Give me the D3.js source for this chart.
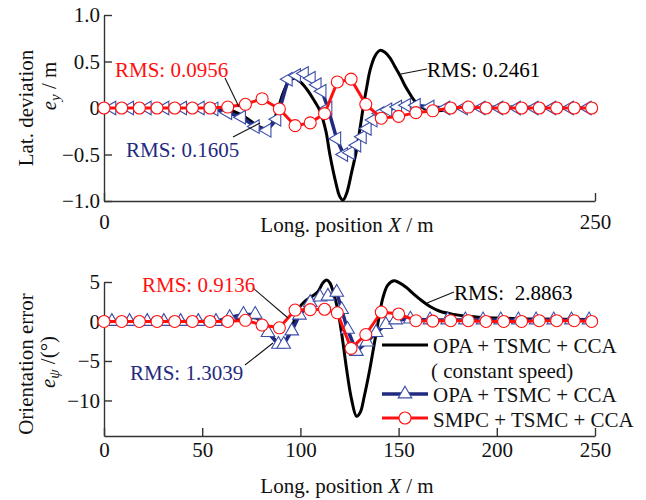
<!DOCTYPE html>
<html>
<head>
<meta charset="utf-8">
<script src="https://cdn.jsdelivr.net/npm/d3@7"></script>
<style>
  body { margin: 0; background: #fff; }
  text { font-family: "Liberation Serif", "Times New Roman", serif; }
</style>
</head>
<body>
<div id="mycanvas"></div>
<script>
const width = 646;
const height = 500;

// constant speed OPA (black), [X, value]
const blackTop = [[0,0],[55,0],[65,-0.03],[72,-0.1],[78,-0.19],[82,-0.22],[85,-0.18],[88,-0.05],[91,0.15],[94,0.28],[97,0.32],[100,0.28],[104,0.18],[107,0.08],[110,-0.03],[113,-0.25],[115,-0.5],[118,-0.8],[120,-0.95],[121.7,-0.99],[123.5,-0.92],[126,-0.7],[128.6,-0.45],[130.5,-0.2],[132,0.01],[134,0.25],[135.5,0.41],[138,0.56],[140.5,0.62],[143,0.6],[145.6,0.54],[148,0.45],[150.7,0.35],[153,0.25],[155.8,0.15],[158,0.08],[161,0.02],[165,-0.02],[170,-0.03],[175,-0.02],[180,0],[250,0]];
const blackBot = [[0,0],[60,0],[70,0.3],[78,0.4],[82,-0.5],[86,-2.0],[90,-2.9],[93,-2.2],[96,-0.5],[99,1.6],[102,2.5],[106,3.2],[109,3.8],[111.5,4.9],[113.4,5.25],[115,4.9],[117,3.5],[119,1.5],[121,-1.5],[123.5,-6],[126,-9.8],[128.6,-12],[130.5,-11.5],[132.5,-9.5],[135,-6.5],[137.5,-3],[140,0.5],[142,3],[144.5,4.6],[147.5,5.15],[150,4.95],[154,4.3],[158,3.4],[162,2.6],[166,1.9],[171,1.3],[178,0.9],[185,0.65],[193,0.5],[205,0.4],[220,0.3],[250,0.25]];

// OPA + TSMC + CCA (blue)
const blueTop = [[4,0],[13,0],[22,0],[31,0],[40,0],[49,0],[56,-0.01],[63,-0.05],[70,-0.1],[77,-0.2],[83,-0.24],[88,-0.12],[93.8,0.31],[98,0.35],[102,0.37],[105.5,0.32],[108.5,0.25],[111,0.18],[114,0.0],[118.5,-0.33],[122,-0.5],[125.5,-0.48],[128.7,-0.4],[131.5,-0.31],[134,-0.22],[137,-0.13],[140.5,-0.06],[144.5,-0.02],[149.5,0.01],[154,0.03],[159,0.03],[166,0.01],[174,0],[183,0],[192,0],[201,0],[210,0],[219,0],[228,0],[237,0],[246,0]];
const blueBot = [[4,0],[13,0],[22,0],[30.5,0],[39,0],[48,0],[57,0],[64,0.5],[71,0.9],[77,0.9],[83.5,-1.4],[88.8,-2.9],[91.5,-2.9],[95.6,-1.2],[99.5,0.8],[105,2.4],[110,3.1],[114,3.2],[118.5,3.7],[121,1.5],[124,-1.0],[128.5,-3.8],[133.8,-2.6],[138.5,-1.4],[143.5,-0.4],[148.5,0.2],[156,0.3],[166,0.2],[175,0.2],[184,0.2],[193,0.2],[202,0.2],[211,0.2],[220,0.2],[229,0.2],[238,0.2],[247,0.2]];

// SMPC + TSMC + CCA (red)
const redX = [0,9,18,27,36,45,54,63,72,80.5,89.3,97.3,105,112.3,118.8,125.8,133.3,141.2,150,158.8,167.4,176.5,185.5,194.5,203.5,212.6,221.6,230.5,239.4,248.3];
const redTopY = [0,0,0,0,0,0,0,0.01,0.04,0.10,-0.01,-0.19,-0.16,-0.06,0.28,0.31,0.04,-0.11,-0.09,-0.05,-0.03,0,0.01,0,0,0,0,0,0,0];
const redBotY = [0,0,0,0,0,0,0,0,0.15,-0.45,-0.8,1.45,1.5,1.55,1.1,-3.4,-1.65,1.2,0.95,0.1,0.05,0.1,0.1,0,0,0,0.1,0.1,0.1,0];

const topTicks = [1, 0.5, 0, -0.5, -1];
const botTicks = [5, 0, -5, -10];
const botXTicks = [0, 50, 100, 150, 200, 250];
const legendLabels = ["OPA＋TSMC＋CCA", "SMPC＋TSMC＋CCA"];

const colBlack = "#000";
const colBlue = "#1f2a80";
const colTri = "#3c4ea8";
const colRed = "#ff1010";
const fs = 21;

const svg = d3.select("#mycanvas").append("svg")
  .attr("width", width).attr("height", height);
svg.append("rect").attr("width", width).attr("height", height).attr("fill", "#fff");

const x = d3.scaleLinear().domain([0, 250]).range([104, 595]);
const yTop = d3.scaleLinear().domain([-1, 1]).range([201, 15]);
const yBot = d3.scaleLinear().domain([-14.5, 5]).range([436, 282]);

const fmtMinus = (d) => (d < 0 ? "\u2212" : "") + Math.abs(d);

// axes
const axStyle = (g) => {
  g.selectAll("path").attr("stroke", "#333").attr("stroke-width", 1.4);
  g.selectAll("line").attr("stroke", "#333").attr("stroke-width", 1.4);
  g.selectAll("text").attr("font-size", fs).attr("fill", "#111")
    .attr("font-family", "Liberation Serif, serif");
};

svg.append("g").attr("transform", "translate(104,0)")
  .call(d3.axisLeft(yTop).tickValues(topTicks).tickSizeInner(-8).tickSizeOuter(0).tickPadding(4)
    .tickFormat((d) => d === 0 ? "0" : (d < 0 ? "\u2212" : "") + Math.abs(d).toFixed(1)))
  .call(axStyle);
svg.append("g").attr("transform", "translate(0,201)")
  .call(d3.axisBottom(x).tickValues([0, 250]).tickSizeInner(-8).tickSizeOuter(0).tickPadding(13))
  .call(axStyle);

svg.append("g").attr("transform", "translate(104,0)")
  .call(d3.axisLeft(yBot).tickValues(botTicks).tickSizeInner(-8).tickSizeOuter(0).tickPadding(4)
    .tickFormat(fmtMinus))
  .call(axStyle);
svg.append("g").attr("transform", "translate(0,436)")
  .call(d3.axisBottom(x).tickValues(botXTicks).tickSizeInner(-8).tickSizeOuter(0).tickPadding(6))
  .call(axStyle);

// top of bottom y axis should stop at 5
svg.selectAll(".domain").attr("fill", "none");

// axis titles
const xTitle = (yy) => {
  const t = svg.append("text").attr("x", 347).attr("y", yy).attr("text-anchor", "middle")
    .attr("font-size", fs).attr("fill", "#111");
  t.append("tspan").text("Long. position ");
  t.append("tspan").attr("font-style", "italic").text("X");
  t.append("tspan").text(" / m");
};
xTitle(232);
xTitle(493);

const yTitle = (cx, cy, label) => {
  svg.append("text").attr("transform", `translate(${cx},${cy}) rotate(-90)`)
    .attr("text-anchor", "middle").attr("font-size", fs).attr("fill", "#111").text(label);
};
yTitle(33, 108, "Lat. deviation");
yTitle(33, 364, "Orientation error");

const t1 = svg.append("text").attr("transform", "translate(56,86) rotate(-90)")
  .attr("text-anchor", "middle").attr("font-size", fs).attr("fill", "#111");
t1.append("tspan").attr("font-style", "italic").text("e");
t1.append("tspan").attr("font-style", "italic").attr("font-size", 15).attr("dy", 4).text("y");
t1.append("tspan").attr("dy", -4).text(" / m");

const t2 = svg.append("text").attr("transform", "translate(55,362) rotate(-90)")
  .attr("text-anchor", "middle").attr("font-size", fs).attr("fill", "#111");
t2.append("tspan").attr("font-style", "italic").text("e");
t2.append("tspan").attr("font-style", "italic").attr("font-size", 15).attr("dy", 4).text("\u03c8");
t2.append("tspan").attr("dy", -4).text(" /(\u00b0)");

// series
const smooth = (ys) => d3.line().x((d) => x(d[0])).y((d) => ys(d[1])).curve(d3.curveCatmullRom.alpha(0.5));
const poly = (ys) => d3.line().x((d) => x(d[0])).y((d) => ys(d[1]));

const drawPanel = (ys, black, blue, redY, triRot) => {
  const g = svg.append("g");
  g.append("path").datum(black).attr("d", smooth(ys))
    .attr("fill", "none").attr("stroke", colBlack).attr("stroke-width", 3);
  g.append("path").datum(blue).attr("d", poly(ys))
    .attr("fill", "none").attr("stroke", colBlue).attr("stroke-width", 3.5).attr("stroke-linejoin", "round");
  g.selectAll(".tri").data(blue).join("path").attr("class", "tri")
    .attr("d", d3.symbol(d3.symbolTriangle, 80)())
    .attr("transform", (d) => `translate(${x(d[0])},${ys(d[1])}) rotate(${triRot})`)
    .attr("fill", "#fff").attr("stroke", colTri).attr("stroke-width", 1.1);
  const red = redX.map((v, i) => [v, redY[i]]);
  g.append("path").datum(red).attr("d", poly(ys))
    .attr("fill", "none").attr("stroke", colRed).attr("stroke-width", 3).attr("stroke-linejoin", "round");
  g.selectAll(".circ").data(red).join("circle").attr("class", "circ")
    .attr("cx", (d) => x(d[0])).attr("cy", (d) => ys(d[1])).attr("r", 6)
    .attr("fill", "#fff").attr("stroke", colRed).attr("stroke-width", 1.1);
};
drawPanel(yTop, blackTop, blueTop, redTopY, -90);
drawPanel(yBot, blackBot, blueBot, redBotY, 0);

// RMS annotations
const notes = [
  { text: "RMS: 0.0956", color: colRed, tx: 115, ty: 77, l: [[225, 78], [239, 107]] },
  { text: "RMS: 0.1605", color: colBlue, tx: 126, ty: 157, l: [[233, 137], [260, 123]] },
  { text: "RMS: 0.2461", color: colBlack, tx: 427, ty: 77, l: [[401, 74], [427, 69]] },
  { text: "RMS: 0.9136", color: colRed, tx: 142, ty: 292, l: [[253, 288], [288, 318]] },
  { text: "RMS: 1.3039", color: colBlue, tx: 130, ty: 380, l: [[245, 365], [273, 343]] },
  { text: "RMS:  2.8863", color: colBlack, tx: 454, ty: 300, l: [[427, 303], [454, 292]] }
];
notes.forEach((n) => {
  svg.append("line").attr("x1", n.l[0][0]).attr("y1", n.l[0][1]).attr("x2", n.l[1][0]).attr("y2", n.l[1][1])
    .attr("stroke", "#111").attr("stroke-width", 1.1);
  svg.append("text").attr("x", n.tx).attr("y", n.ty).attr("font-size", fs).attr("fill", n.color)
    .attr("xml:space", "preserve").style("white-space", "pre").text(n.text);
});

// legend
const lg = svg.append("g");
lg.append("line").attr("x1", 382).attr("x2", 428).attr("y1", 345).attr("y2", 345)
  .attr("stroke", colBlack).attr("stroke-width", 3);
lg.append("line").attr("x1", 382).attr("x2", 428).attr("y1", 394).attr("y2", 394)
  .attr("stroke", colBlue).attr("stroke-width", 3.5);
lg.append("path").attr("d", d3.symbol(d3.symbolTriangle, 80)()).attr("transform", "translate(405,394)")
  .attr("fill", "#fff").attr("stroke", colTri).attr("stroke-width", 1.1);
lg.append("line").attr("x1", 382).attr("x2", 428).attr("y1", 418).attr("y2", 418)
  .attr("stroke", colRed).attr("stroke-width", 3);
lg.append("circle").attr("cx", 405).attr("cy", 418).attr("r", 6)
  .attr("fill", "#fff").attr("stroke", colRed).attr("stroke-width", 1.1);

const legText = (yy, s, xx) => lg.append("text").attr("x", xx || 433).attr("y", yy)
  .attr("font-size", fs).attr("fill", "#111").style("white-space", "pre").text(s);
legText(353, "OPA + TSMC + CCA");
legText(378, "( constant speed)", 431);
legText(402, "OPA + TSMC + CCA");
legText(427, "SMPC + TSMC + CCA");
</script>
</body>
</html>
